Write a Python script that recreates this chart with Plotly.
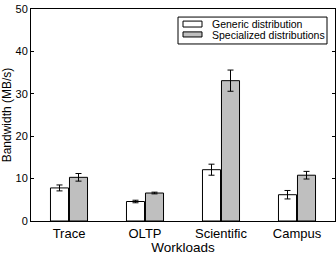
import plotly.graph_objects as go

categories = ["Trace", "OLTP", "Scientific", "Campus"]
generic = [7.8, 4.6, 12.1, 6.2]
generic_err = [0.7, 0.3, 1.3, 1.0]
special = [10.3, 6.6, 33.1, 10.8]
special_err = [0.9, 0.2, 2.5, 0.9]
series_names = ["Generic distribution", "Specialized distributions"]
series_colors = ["white", "#bfbfbf"]
y_ticks = [0, 10, 20, 30, 40, 50]

font = "Liberation Sans"

fig = go.Figure()
for vals, errs, name, col in [(generic, generic_err, series_names[0], series_colors[0]),
                              (special, special_err, series_names[1], series_colors[1])]:
    fig.add_trace(go.Bar(
        x=categories, y=vals, name=name, showlegend=False,
        marker=dict(color=col, line=dict(color="black", width=1)),
        error_y=dict(type="data", array=errs, color="black", thickness=1, width=3),
    ))

# compact legend box drawn in paper coordinates
shapes = [dict(type="rect", xref="paper", yref="paper",
               x0=0.4836, x1=0.9737, y0=0.835, y1=0.962,
               line=dict(color="black", width=1), fillcolor="white", layer="above")]
annotations = []
rows = [(0.915, 0.943, 0.929), (0.868, 0.892, 0.879)]
for (y0, y1, yc), name, col in zip(rows, series_names, series_colors):
    shapes.append(dict(type="rect", xref="paper", yref="paper",
                       x0=0.5, x1=0.5625, y0=y0, y1=y1,
                       line=dict(color="black", width=1), fillcolor=col, layer="above"))
    annotations.append(dict(xref="paper", yref="paper", x=0.588, y=yc,
                            xanchor="left", yanchor="middle", text=name,
                            showarrow=False, font=dict(size=10.5)))

fig.update_layout(
    width=336, height=255,
    margin=dict(l=31, r=1, t=9, b=34),
    paper_bgcolor="white", plot_bgcolor="white",
    barmode="group", bargap=0.5, bargroupgap=0.05,
    font=dict(family=font, color="black", size=11),
    showlegend=False,
    shapes=shapes, annotations=annotations,
    xaxis=dict(
        title=dict(text="Workloads", font=dict(size=13.5), standoff=0),
        showline=True, linecolor="black", linewidth=1, mirror=True,
        ticks="", tickfont=dict(size=13), range=[-0.5, 3.5],
    ),
    yaxis=dict(
        title=dict(text="Bandwidth (MB/s)", font=dict(size=12), standoff=3),
        range=[0, 50], tickvals=y_ticks,
        showline=True, linecolor="black", linewidth=1, mirror="ticks",
        ticks="inside", ticklen=3, tickcolor="black",
        showgrid=False, zeroline=False, tickfont=dict(size=11),
    ),
)

fig.write_html("out.html")
